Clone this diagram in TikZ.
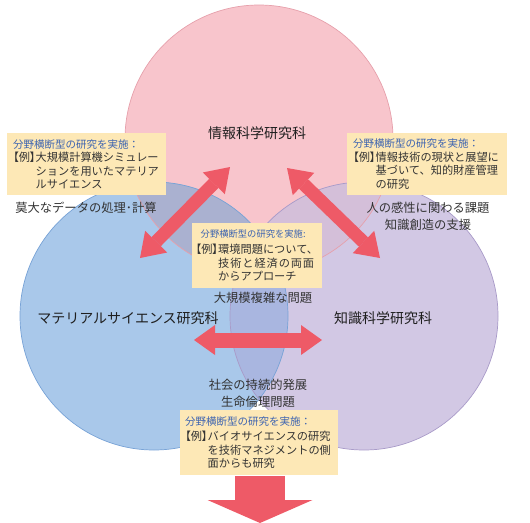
\documentclass[tikz,border=0pt]{standalone}
\usepackage{fontspec}
\setmainfont{Noto Sans CJK JP}
\newfontfamily\jpp[RawFeature=+palt]{Noto Sans CJK JP}
\usetikzlibrary{arrows.meta}
\definecolor{pinkc}{HTML}{F8C5CC}
\definecolor{pinkl}{HTML}{E6A0AB}
\definecolor{bluec}{HTML}{A9C8EA}
\definecolor{bluel}{HTML}{77A2D6}
\definecolor{purpc}{HTML}{D2C8E4}
\definecolor{purpl}{HTML}{A89AC8}
\definecolor{pbc}{HTML}{AAB1D0}
\definecolor{pkc}{HTML}{D4BFD9}
\definecolor{bkc}{HTML}{A9B6E0}
\definecolor{tric}{HTML}{AAAED4}
\definecolor{boxc}{HTML}{FDE8B6}
\definecolor{kblue}{HTML}{3C63B0}
\definecolor{txtc}{HTML}{333333}
\definecolor{arrowc}{HTML}{EE5A67}
\newcommand\rei{\makebox[22.5pt][l]{\jpp 【例】}}
\newcommand\ind{\hspace*{22.5pt}}
\newcommand\boxfont{\fontsize{11.2}{13.5}\selectfont}
\newcommand\headfont{\fontsize{10.5}{13.5}\selectfont}
\newcommand\lblfont{\fontsize{12.3}{17}\selectfont}
\newcommand\bigfont{\fontsize{14}{17}\selectfont}
\begin{document}
\begin{tikzpicture}[x=1pt,y=-1pt,
  infobox/.style={fill=boxc, anchor=north west, align=left, inner ysep=0pt, font=\boxfont, text=txtc},
  lbl/.style={font=\lblfont, text=txtc, inner sep=0pt, align=center},
  biglbl/.style={font=\bigfont, text=black!88, inner sep=0pt},
  dbl/.style={draw=arrowc, line width=13pt,
    arrows={Triangle[width=31pt,length=23pt,line width=0pt]-Triangle[width=31pt,length=23pt,line width=0pt]}},
]
\useasboundingbox (0,0) rectangle (530,522);
% circles
\coordinate (cI) at (259,139);
\coordinate (cM) at (154,316);
\coordinate (cK) at (364,316);
\fill[pinkc] (cI) circle[radius=134pt];
\fill[bluec] (cM) circle[radius=134pt];
\fill[purpc] (cK) circle[radius=134pt];
\begin{scope}
  \clip (cI) circle[radius=134pt];
  \fill[pbc] (cM) circle[radius=134pt];
  \fill[pkc] (cK) circle[radius=134pt];
\end{scope}
\begin{scope}
  \clip (cM) circle[radius=134pt];
  \fill[bkc] (cK) circle[radius=134pt];
  \clip (cI) circle[radius=134pt];
  \fill[tric] (cK) circle[radius=134pt];
\end{scope}
\draw[pinkl, line width=0.7pt] (cI) circle[radius=134pt];
\draw[bluel, line width=0.7pt] (cM) circle[radius=134pt];
\draw[purpl, line width=0.7pt] (cK) circle[radius=134pt];

% circle titles
\node[biglbl] (tI) at (257,133) {情報科学研究科};
\node[biglbl] (tM) at (128,318) {マテリアルサイエンス研究科};
\node[biglbl] (tK) at (383,318) {知識科学研究科};

% topic labels
\node[lbl] (l1) at (86,208) {莫大なデータの処理･計算};
\node[lbl] (l2) at (428,216.5) {人の感性に関わる課題\\知識創造の支援};
\node[lbl] (l3) at (263,298) {大規模複雑な問題};
\node[lbl] (l4) at (258,393.5) {社会の持続的発展\\生命倫理問題};

% arrows
\coordinate (a1s) at (230,167);
\coordinate (a1e) at (140,258);
\coordinate (a2s) at (287,168);
\coordinate (a2e) at (380,258);
\coordinate (a3s) at (194,340);
\coordinate (a3e) at (322,340);
\draw[dbl] (a1s) -- (a1e);
\draw[dbl] (a2s) -- (a2e);
\draw[draw=arrowc, line width=15pt,
  arrows={Triangle[width=30pt,length=21pt,line width=0pt]-Triangle[width=30pt,length=21pt,line width=0pt]}] (a3s) -- (a3e);

% info boxes
\node[infobox, inner xsep=6pt, text width=147pt, minimum height=62pt] (b1) at (7,133) {%
{\headfont\color{kblue}分野横断型の研究を実施：}\\
\rei 大規模計算機シミュレー\\
\ind ションを用いたマテリア\\
\ind ルサイエンス};
\node[infobox, inner xsep=6pt, text width=148pt, minimum height=62pt] (b2) at (347,133) {%
{\headfont\color{kblue}分野横断型の研究を実施：}\\
\rei 情報技術の現状と展望に\\
\ind 基づいて、知的財産管理\\
\ind の研究};
\node[infobox, inner xsep=3.5pt, text width=123pt, minimum height=65pt] (b3) at (192,223) {%
\hspace*{5pt}{\fontsize{9.3}{13.5}\selectfont\color{kblue}分野横断型の研究を実施:}\\[3pt]
\rei 環境問題について、\\
\ind\makebox[96pt][s]{技\hfill 術\hfill と\hfill 経\hfill 済\hfill の\hfill 両\hfill 面}\\
\ind からアプローチ};
\node[infobox, inner xsep=5pt, text width=148pt, minimum height=65pt] (b4) at (180,410) {%
{\headfont\color{kblue}分野横断型の研究を実施：}\\[1.5pt]
\rei バイオサイエンスの研究\\
\ind を技術マネジメントの側\\
\ind 面からも研究};

% bottom arrow
\coordinate (d1) at (260,476);
\coordinate (d2) at (260,523);
\draw[draw=arrowc, line width=50pt,
  arrows={-Triangle[width=105pt,length=23pt,line width=0pt]}] (d1) -- (d2);
\end{tikzpicture}
\end{document}
